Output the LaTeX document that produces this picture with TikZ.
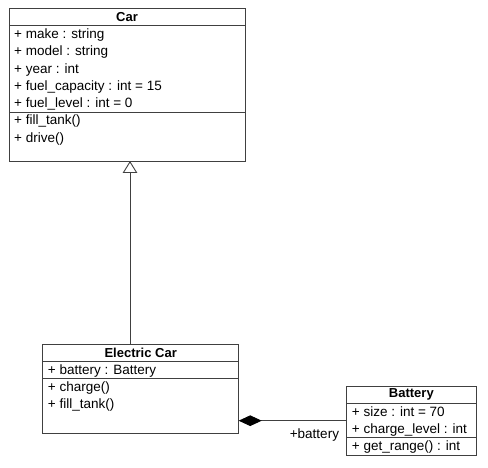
\documentclass[tikz,border=0pt]{standalone}
\usepackage{fontspec}
\setmainfont{Liberation Sans}
\usetikzlibrary{calc,positioning,arrows.meta}

\begin{document}
\begin{tikzpicture}[x=1pt, y=-1pt,
    part/.style={draw=black!75, line width=0.9pt, inner sep=0pt, outer sep=0pt, minimum height=#1pt},
    head/.style={part=17.5, font=\fontsize{13}{15}\selectfont\bfseries},
    member/.style={anchor=base west, inner sep=0pt, font=\fontsize{13.5}{16}\selectfont},
    link/.style={draw=black!75, line width=0.9pt}]
  \useasboundingbox (0,0) rectangle (488,468);
  \def \rowStep {17.3}
  \def \rowBase {13}

  \node[head, minimum width=236pt, anchor=north west] (car) at (9,8) {Car};
  \node[part=86.5, minimum width=236pt, below=0pt of car] (car_attr) {};
  \node[part=49, minimum width=236pt, below=0pt of car_attr] (car_ops) {};
  \foreach \m [count=\i from 0] in {make : string, model : string, year : int,
    fuel\_capacity : int = 15, fuel\_level : int = 0} {
    \node[member] (car_attr_\i) at ($(car_attr.north west)+(5,\rowBase+\rowStep*\i)$) {+ \m};
  }
  \foreach \m [count=\i from 0] in {fill\_tank(), drive()} {
    \node[member] (car_ops_\i) at ($(car_ops.north west)+(5,\rowBase+\rowStep*\i)$) {+ \m};
  }

  \node[head, minimum width=196pt, anchor=north west] (ecar) at (42.7,344) {Electric Car};
  \node[part=16.6, minimum width=196pt, below=0pt of ecar] (ecar_attr) {};
  \node[part=55, minimum width=196pt, below=0pt of ecar_attr] (ecar_ops) {};
  \node[member] (ecar_attr_0) at ($(ecar_attr.north west)+(5,\rowBase)$) {+ battery : Battery};
  \foreach \m [count=\i from 0] in {charge(), fill\_tank()} {
    \node[member] (ecar_ops_\i) at ($(ecar_ops.north west)+(5,\rowBase+\rowStep*\i)$) {+ \m};
  }

  \node[head, minimum width=129.3pt, anchor=north west] (bat) at (346.7,386) {Battery};
  \node[part=34.4, minimum width=129.3pt, below=0pt of bat] (bat_attr) {};
  \node[part=17.3, minimum width=129.3pt, below=0pt of bat_attr] (bat_ops) {};
  \foreach \m [count=\i from 0] in {size : int = 70, charge\_level : int} {
    \node[member] (bat_attr_\i) at ($(bat_attr.north west)+(5,\rowBase+\rowStep*\i)$) {+ \m};
  }
  \node[member] (bat_ops_0) at ($(bat_ops.north west)+(5,\rowBase)$) {+ get\_range() : int};

  \coordinate (gen) at (130,0);
  \draw[link, -{Triangle[open, width=14.6pt, length=12pt]}] (ecar.north -| gen) -- (car_ops.south -| gen);

  \coordinate (comp) at (0,420.7);
  \draw[link, {Diamond[width=10.7pt, length=23pt, color=black]}-] (ecar_ops.east |- comp) -- (bat_attr.west |- comp);
  \node[member, anchor=base east] (bat_role) at ($(bat_attr.west |- comp)+(-7.5,17.6)$) {+battery};
\end{tikzpicture}
\end{document}
